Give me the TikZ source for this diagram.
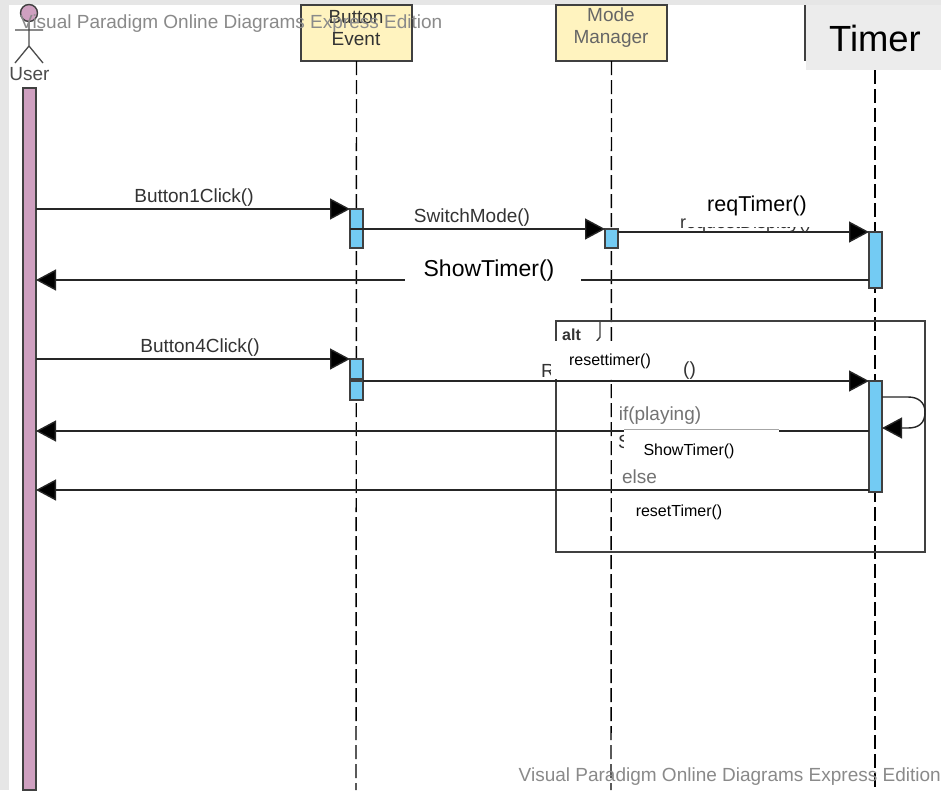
\documentclass[tikz,border=0pt]{standalone}
\usepackage{fontspec}
\setmainfont{Liberation Sans}
\usetikzlibrary{arrows.meta}
\definecolor{pagegrey}{HTML}{E6E6E6}
\definecolor{timergrey}{HTML}{ECECEC}
\definecolor{actblue}{HTML}{73CBF3}
\definecolor{userpink}{HTML}{CFA0C0}
\definecolor{boxyellow}{HTML}{FFF3BF}
\definecolor{inkdark}{HTML}{333333}
\definecolor{markgrey}{HTML}{8A8A8A}
\newcommand{\pxbox}[6]{%
  \node[#6,minimum width=#4pt-#2pt,minimum height=#5pt-#3pt] (#1) at ({(#2+#4)/2},{(#3+#5)/2}) {};}
\tikzset{
  pxfont/.style={font=\fontsize{#1}{#1}\selectfont},
  barbase/.style={draw=black!75,line width=1.4pt,inner sep=0pt,outer sep=0pt,rectangle},
  actbar/.style={barbase,fill=actblue},
  userbar/.style={barbase,fill=userpink},
  headbox/.style={barbase,fill=boxyellow},
  lifeline/.style={line width=1.4pt,dash pattern=on 14pt off 5pt,black},
  msg/.style={line width=1.4pt,draw=black!85,-{Triangle[length=20pt,width=21pt,fill=black]}},
  lbl/.style={pxfont=19,text=inkdark,inner sep=0pt},
  newlbl/.style={pxfont=#1,text=black,inner sep=0pt},
  condlbl/.style={pxfont=19,text=black!55,inner sep=0pt},
  wmark/.style={pxfont=19,text=markgrey,inner sep=0pt},
}
\begin{document}
\begin{tikzpicture}[x=1pt,y=-1pt]
\useasboundingbox (0,0) rectangle (941,790);
\fill[white] (0,0) rectangle (941,790);
\fill[pagegrey] (0,0) rectangle (941,5);
\fill[pagegrey] (0,0) rectangle (9,790);

% heads
\pxbox{button}{301}{5}{412}{61}{headbox}
\pxbox{mode}{556}{5}{667}{61}{headbox}
\node[lbl,align=center,text=inkdark] (buttonlabel) at (356,28) {Button\\[3pt]Event};
\node[lbl,align=center,text=black!60] (modelabel) at (611,28) {Mode\\[3pt]Manager};
\coordinate (timertop) at (875,70);
\coordinate (buttonend) at (356,790);
\coordinate (modeend) at (611,790);
\coordinate (timerend) at (875,790);

% lifelines
\draw[lifeline] (button.south) -- (buttonend);
\draw[lifeline] (mode.south) -- (modeend);
\draw[lifeline] (timertop) -- (timerend);

% alt frame
\pxbox{altframe}{556}{321}{925}{552}{barbase}
\coordinate (tagtop) at (600,321);
\coordinate (tagmid) at (600,337);
\coordinate (tagend) at (596,342);
\draw[line width=1.4pt,black!75] (tagtop) -- (tagmid) -- (tagend);

% actor
\pxbox{userlife}{23}{88}{36}{790}{userbar}
\node[circle,draw=black!75,fill=userpink,line width=1.4pt,minimum size=17pt,inner sep=0pt] (head) at (29,13) {};
\coordinate (armL) at (15,30);
\coordinate (armR) at (43,30);
\coordinate (hip) at (29,46);
\coordinate (legL) at (15,63);
\coordinate (legR) at (43,63);
\draw[line width=1.3pt,black!70] (head.south) -- (hip) (armL) -- (armR) (legL) -- (hip) -- (legR);
\node[lbl,text=black!70] (userlabel) at (29.5,74) {User};

% activations
\pxbox{a1}{350}{209}{363}{248}{actbar}
\pxbox{a2}{605}{229}{618}{248}{actbar}
\pxbox{a3}{869}{232}{882}{288}{actbar}
\pxbox{a4}{350}{359}{363}{379}{actbar}
\pxbox{a5}{350}{381}{363}{400}{actbar}
\pxbox{a6}{869}{381}{882}{492}{actbar}

% messages
\draw[msg] (userlife.east |- a1.north) -- (a1.north west);
\draw[msg] (a1.west |- a2.north) -- (a2.north west);
\draw[msg] (a2.east |- a3.north) -- (a3.north west);
\coordinate (ret1) at (36,280);
\draw[msg] (a3.west |- ret1) -- (userlife.east |- ret1);
\draw[msg] (userlife.east |- a4.north) -- (a4.north west);
\draw[msg] (a5.north east) -- (a6.north west);
\coordinate (ret2) at (36,431);
\draw[msg] (a6.west |- ret2) -- (userlife.east |- ret2);
\coordinate (ret3) at (36,490);
\draw[msg] (a6.west |- ret3) -- (userlife.east |- ret3);
\coordinate (selfA) at (882,397);
\coordinate (selfB) at (882,428);
\draw[msg] (selfA) -- (908,397) .. controls (919,397) and (925,403) .. (925,412) .. controls (925,423) and (919,428) .. (908,428) -- (selfB);

% labels under the patches
\node[lbl,anchor=west] (oldR) at (541,371) {R};
\node[lbl,anchor=west] (oldP) at (683,371) {()};
\node[lbl,anchor=west] (oldS) at (618,442) {S};
\node[lbl,anchor=west,font=\fontsize{18}{18}\selectfont] (oldreq) at (680,224) {requestDisplay()};
\node[lbl,anchor=west,font=\fontsize{16}{16}\selectfont\bfseries] (altlabel) at (562,335) {alt};

% white patches
\fill[white] (405,255) rectangle (581,292);
\fill[white] (551,340.5) rectangle (622,379);
\fill[white] (622,358) rectangle (682,379);
\fill[white] (624,429.5) rectangle (779,465);
\fill[white] (686,205) rectangle (810,227);
\fill[white] (812,205) rectangle (830,231);
\draw[line width=0.5pt,black!35] (624,429.7) -- (779,429.7);

% timer cover
\fill[black!75] (803.5,5) rectangle (805.5,61);
\fill[timergrey] (806,5) rectangle (941,70);
\node[newlbl=36.4] (timerlabel) at (875,38) {Timer};

% labels
\node[lbl] (l1) at (194,198) {Button1Click()};
\node[lbl] (l2) at (472,218) {SwitchMode()};
\node[lbl] (l3) at (200,348) {Button4Click()};
\node[newlbl=21.5] (l4) at (757,206) {reqTimer()};
\node[newlbl=23] (l5) at (489,271) {ShowTimer()};
\node[newlbl=16] (l6) at (610,361) {resettimer()};
\node[newlbl=16] (l7) at (689,451) {ShowTimer()};
\node[newlbl=16] (l8) at (679,512) {resetTimer()};
\node[condlbl] (l9) at (660,416) {if(playing)};
\node[condlbl] (l10) at (639.5,477) {else};

% watermarks
\node[wmark,anchor=west] (wm1) at (20,24) {Visual Paradigm Online Diagrams Express Edition};
\node[wmark,anchor=east] (wm2) at (941,777) {Visual Paradigm Online Diagrams Express Edition};
\end{tikzpicture}
\end{document}
